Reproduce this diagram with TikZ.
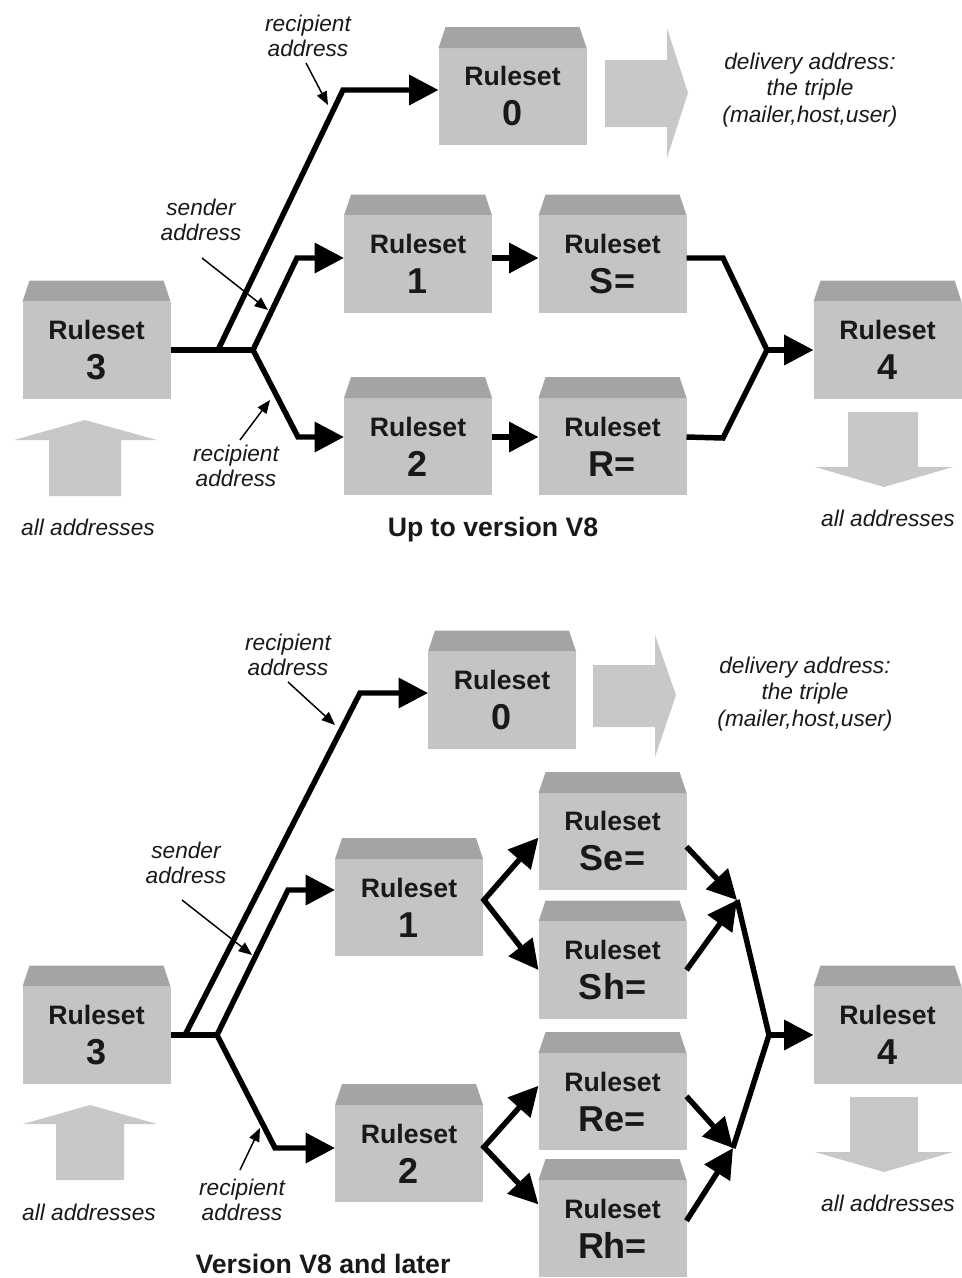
\documentclass[tikz,border=0pt]{standalone}
\usepackage{fontspec}
\setmainfont{Liberation Sans}
\usetikzlibrary{arrows.meta,calc}
\definecolor{bodyc}{RGB}{196,196,196}
\definecolor{capc}{RGB}{164,164,164}
\definecolor{bigc}{RGB}{200,200,200}
\definecolor{txt}{RGB}{25,25,25}
\newcommand\rsl[1]{Ruleset\\[2pt]{\fontsize{27}{30}\selectfont #1}}
\begin{document}
\begin{tikzpicture}[x=0.75pt,y=-0.75pt,
  rbox/.style={fill=bodyc, minimum width=111pt, minimum height=72.75pt, inner sep=0pt, outer sep=0pt, align=center, text=txt, font=\fontsize{20}{28}\selectfont\bfseries},
  lab/.style={font=\fontsize{17}{19}\selectfont\itshape, align=center, text=txt, inner sep=0pt},
  ttl/.style={font=\fontsize{20}{24}\selectfont\bfseries, text=txt, inner sep=0pt},
  ln/.style={line width=4.1pt, line join=miter},
  arr/.style={ln, -{Triangle[length=22pt,width=22pt]}},
  darr/.style={ln, {Triangle[length=22pt,width=22pt]}-{Triangle[length=22pt,width=22pt]}},
  thin/.style={line width=1.1pt, -{Triangle[length=10pt,width=8pt]}},
  big/.style={fill=bigc}]
\useasboundingbox (0,0) rectangle (962,1278);

% ---------------- upper diagram ----------------
\node[rbox] (r3) at (96.5,350) {\rsl{3}};
\node[rbox] (r0) at (512.5,96.5) {\rsl{0}};
\node[rbox] (r1) at (418,264) {\rsl{1}};
\node[rbox] (rS) at (612.5,264) {\rsl{S=}};
\node[rbox] (r2) at (418,446.5) {\rsl{2}};
\node[rbox] (rR) at (612.5,446.5) {\rsl{R=}};
\node[rbox] (r4) at (887.5,350) {\rsl{4}};

% ---------------- lower diagram ----------------
\node[rbox] (r3b) at (96.5,1035) {\rsl{3}};
\node[rbox] (r0b) at (502,700) {\rsl{0}};
\node[rbox] (r1b) at (409,907.5) {\rsl{1}};
\node[rbox] (r2b) at (409,1153.5) {\rsl{2}};
\node[rbox] (se) at (612.5,841.5) {\rsl{Se=}};
\node[rbox] (sh) at (612.5,970) {\rsl{Sh=}};
\node[rbox] (re) at (612.5,1101.5) {\rsl{Re=}};
\node[rbox] (rh) at (612.5,1228.5) {\rsl{Rh=}};
\node[rbox] (r4b) at (887.5,1035) {\rsl{4}};

\foreach \n in {r3,r0,r1,rS,r2,rR,r4,r3b,r0b,r1b,r2b,se,sh,re,rh,r4b}
  \fill[capc] (\n.north west) -- ([shift={(7,-21)}]\n.north west) -- ([shift={(-7,-21)}]\n.north east) -- (\n.north east) -- cycle;

% big gray arrows
\fill[big] (605,60) -- (667,60) -- (667,28) -- (688,93) -- (667,158) -- (667,127) -- (605,127) -- cycle;
\fill[big] (49,496) -- (49,440) -- (14,440) -- (85,420) -- (157,440) -- (121,440) -- (121,496) -- cycle;
\fill[big] (848,412) -- (918,412) -- (918,467) -- (953,467) -- (884,487) -- (815,467) -- (848,467) -- cycle;
\fill[big] (593,665) -- (655,665) -- (655,635) -- (676,695) -- (655,757) -- (655,727) -- (593,727) -- cycle;
\fill[big] (56,1180) -- (56,1124) -- (23,1124) -- (90,1105) -- (157,1124) -- (124,1124) -- (124,1180) -- cycle;
\fill[big] (850,1097) -- (918,1097) -- (918,1152) -- (953,1152) -- (884,1172) -- (815,1152) -- (850,1152) -- cycle;

% ---------------- upper connectors ----------------
\coordinate (j1) at (218,350);
\coordinate (j2) at (253,350);
\coordinate (c0) at (343,90);
\coordinate (c1) at (297,258);
\coordinate (c2) at (298,437);
\coordinate (d1) at (723,258);
\coordinate (j4) at (767,350);
\coordinate (d2) at (723,438);
\draw[ln] (r3.east) -- (j2);
\draw[arr] (j1) -- (c0) -- (r0.west |- c0);
\draw[arr] (j2) -- (c1) -- (r1.west |- c1);
\draw[arr] (j2) -- (c2) -- (r2.west |- c2);
\draw[arr] (r1.east |- c1) -- (rS.west |- c1);
\draw[arr] (r2.east |- c2) -- (rR.west |- c2);
\draw[ln] (rS.east |- c1) -- (d1) -- (j4) -- (d2) -- (rR.east |- c2);
\draw[arr] (j4) -- (r4.west |- j4);

% ---------------- lower connectors ----------------
\coordinate (j1b) at (185,1035);
\coordinate (j2b) at (217,1035);
\coordinate (c0b) at (360,693);
\coordinate (c1b) at (288,890);
\coordinate (c2b) at (275,1148);
\coordinate (f1) at (484,900);
\coordinate (f2) at (484,1147);
\coordinate (k1) at (737,900);
\coordinate (k2) at (733,1148);
\coordinate (j4b) at (769,1035);
\draw[ln] (r3b.east) -- (j2b);
\draw[arr] (j1b) -- (c0b) -- (r0b.west |- c0b);
\draw[arr] (j2b) -- (c1b) -- (r1b.west |- c1b);
\draw[arr] (j2b) -- (c2b) -- (r2b.west |- c2b);
\draw[darr] (se.177) -- (f1) -- (sh.west);
\draw[darr] (re.168) -- (f2) -- (rh.162);
\draw[arr] (se.-4) -- (k1);
\draw[arr] (sh.east) -- (k1);
\draw[arr] (re.4) -- (k2);
\draw[arr] (rh.6) -- (k2);
\draw[ln] (k1) -- (j4b) -- (k2);
\draw[arr] (j4b) -- (r4b.west);

% ---------------- labels (upper) ----------------
\node[lab] (la1) at (308,36) {recipient\\address};
\node[lab] (la2) at (201,220) {sender\\address};
\node[lab] (la3) at (236,466) {recipient\\address};
\node[lab] (la4) at (88,527) {all addresses};
\node[lab] (la5) at (888,518) {all addresses};
\node[lab, font=\fontsize{17}{20}\selectfont\itshape] (la6) at (810,90) {delivery address:\\the triple\\(mailer,host,user)};
\node[ttl] (t1) at (493,530) {Up to version V8};
\coordinate (a1s) at (306,63);  \coordinate (a1e) at (328,105);
\coordinate (a2s) at (202,258); \coordinate (a2e) at (268,310);
\coordinate (a3s) at (240,440); \coordinate (a3e) at (270,400);
\draw[thin] (a1s) -- (a1e);
\draw[thin] (a2s) -- (a2e);
\draw[thin] (a3s) -- (a3e);

% ---------------- labels (lower) ----------------
\node[lab] (lb1) at (288,655) {recipient\\address};
\node[lab] (lb2) at (186,863) {sender\\address};
\node[lab] (lb3) at (242,1200) {recipient\\address};
\node[lab] (lb4) at (89,1212) {all addresses};
\node[lab] (lb5) at (888,1203) {all addresses};
\node[lab, font=\fontsize{17}{20}\selectfont\itshape] (lb6) at (805,694) {delivery address:\\the triple\\(mailer,host,user)};
\node[ttl] (t2) at (323,1264) {Version V8 and later};
\coordinate (b1s) at (288,682); \coordinate (b1e) at (335,725);
\coordinate (b2s) at (182,900); \coordinate (b2e) at (252,955);
\coordinate (b3s) at (240,1170); \coordinate (b3e) at (260,1128);
\draw[thin] (b1s) -- (b1e);
\draw[thin] (b2s) -- (b2e);
\draw[thin] (b3s) -- (b3e);
\end{tikzpicture}
\end{document}
